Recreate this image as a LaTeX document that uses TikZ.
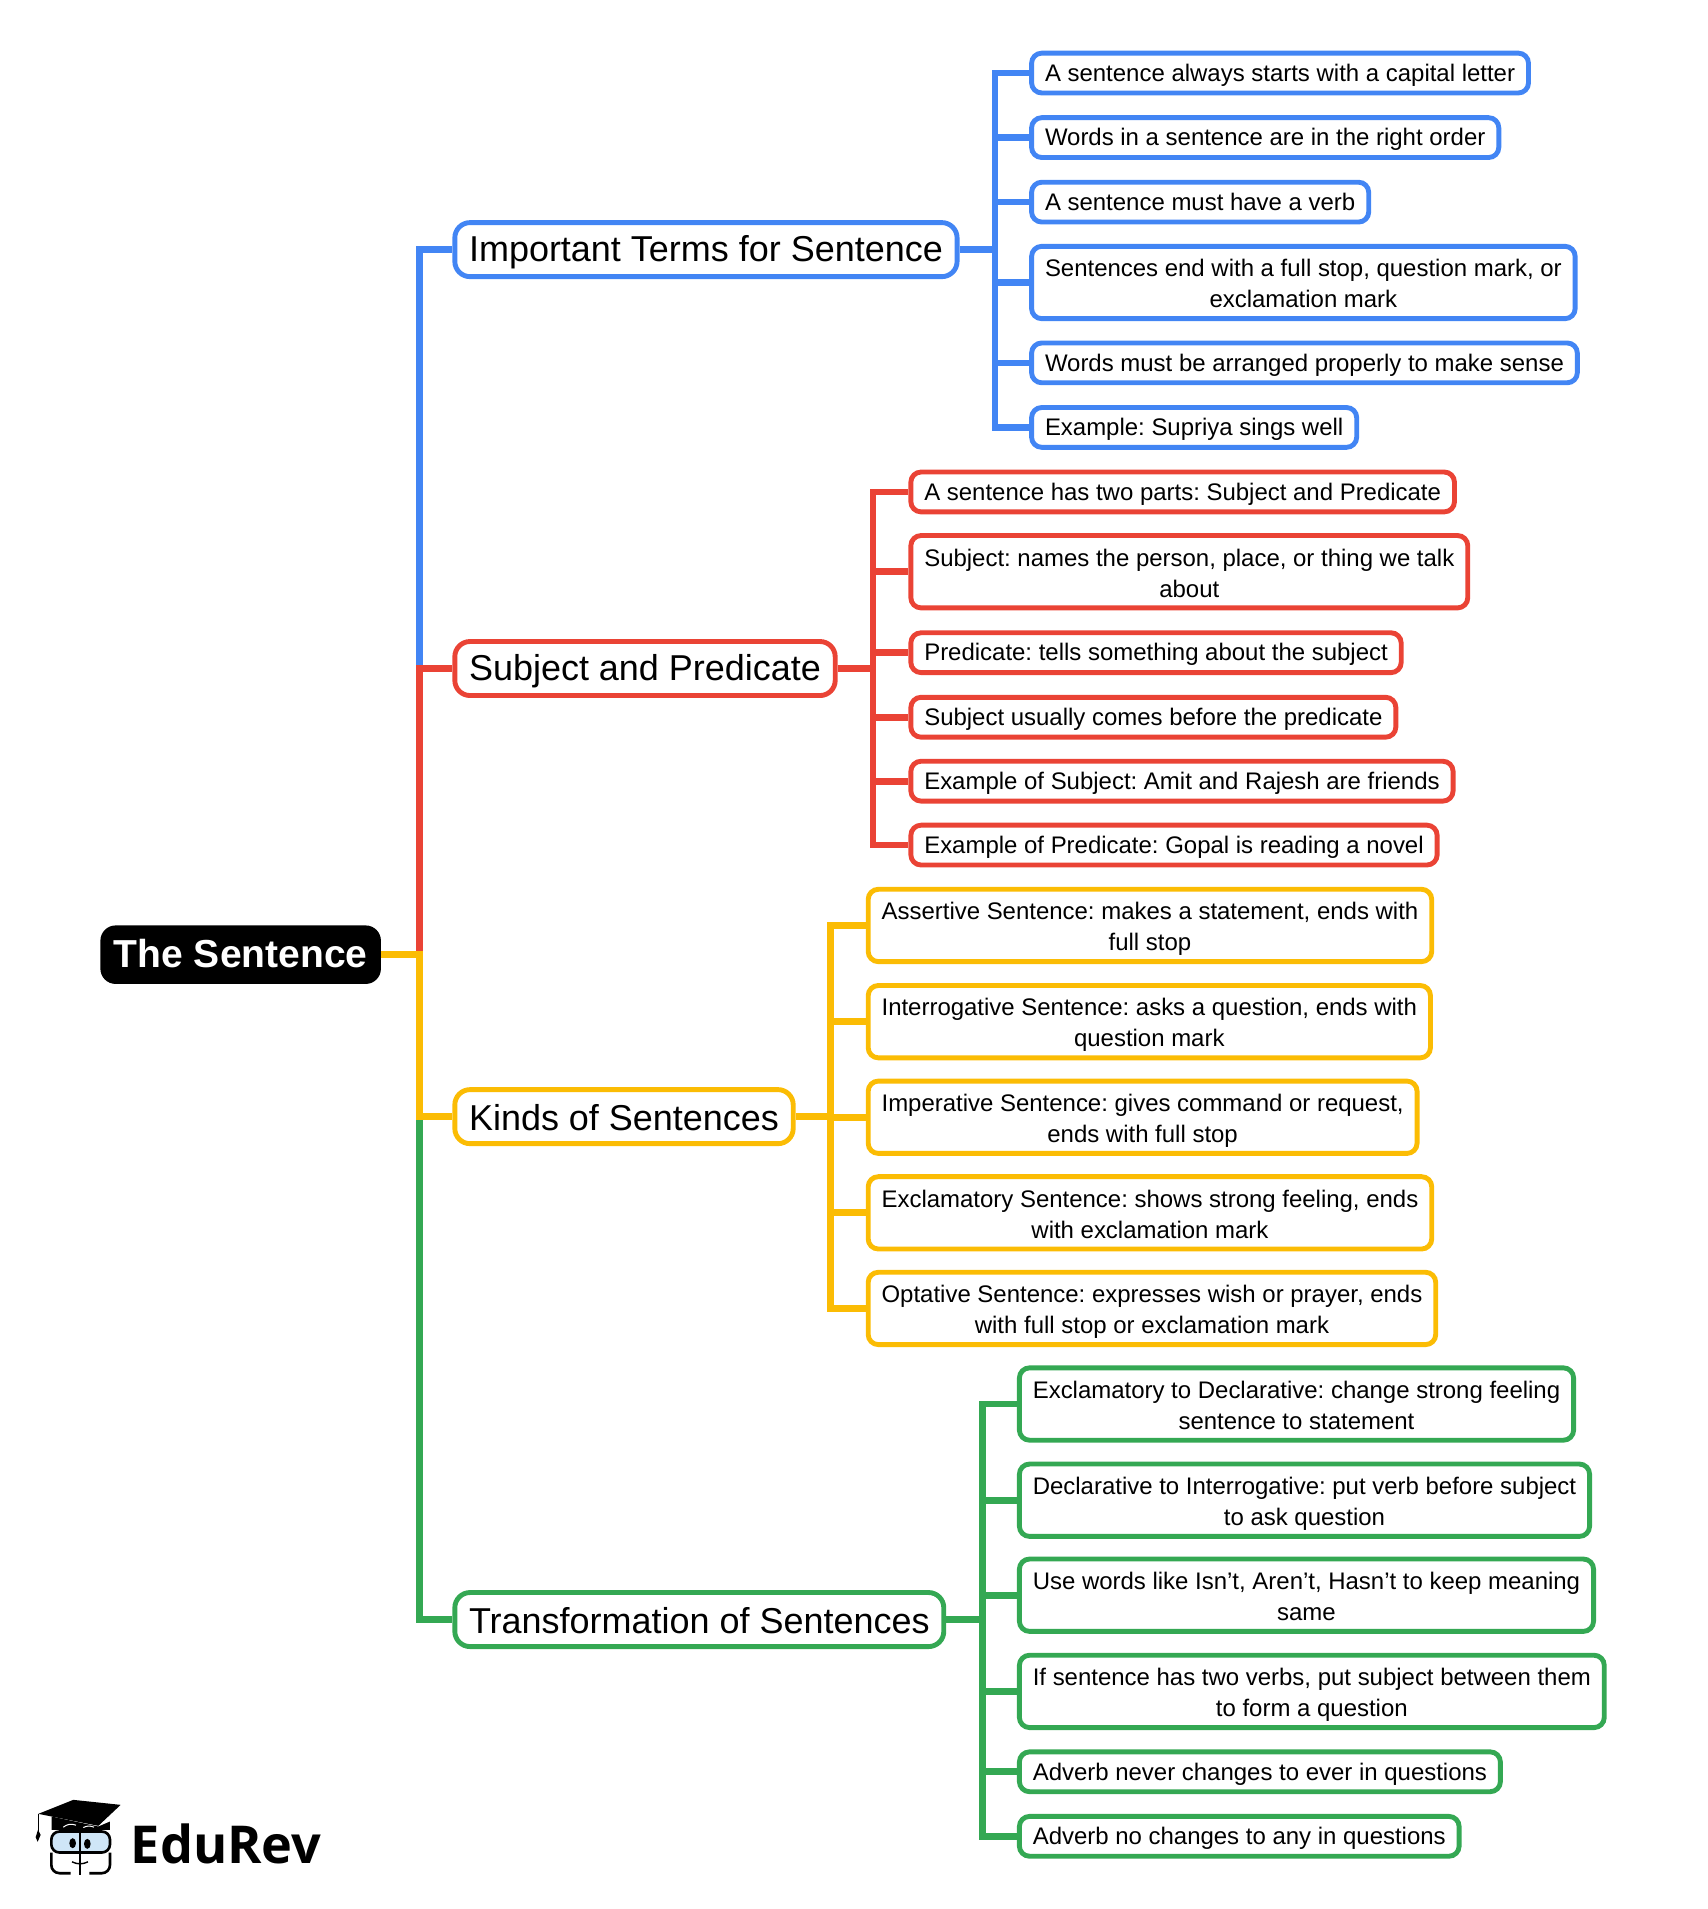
\documentclass[tikz,border=0pt]{standalone}
\usepackage{fontspec}
\setmainfont{Liberation Sans}
\newfontfamily\logofont{Open Sans}
\usetikzlibrary{calc,positioning}
\definecolor{mapblue}{HTML}{4285F4}
\definecolor{mapred}{HTML}{EA4335}
\definecolor{mapyellow}{HTML}{FBBC04}
\definecolor{mapgreen}{HTML}{34A853}
\definecolor{lensblue}{HTML}{CFE6F7}
\newcommand{\leafstrut}{\vrule width 0pt height 10.6pt depth 2pt}
\newcommand{\tallstrut}{\vrule width 0pt height 27pt depth 2pt}
\newcommand{\branchstrut}{\vrule width 0pt height 15.6pt depth 2pt}
\newcommand{\rootstrut}{\vrule width 0pt height 15pt depth 2.2pt}

\begin{document}
\frenchspacing
\begin{tikzpicture}[
		x=0.6pt, y=-0.5992pt,
		every node/.style={font=\fontsize{11.79}{15.3}\selectfont, inner sep=0pt},
		leaf/.style={draw=#1, fill=white, line width=2.4pt, rounded corners=5pt, anchor=west, align=center,
			inner xsep=6.6pt, minimum height=19.6pt, execute at begin node=\leafstrut, execute at end node=\leafstrut},
		tall/.style={minimum height=35.6pt, execute at begin node=\tallstrut},
		branch/.style={draw=#1, fill=white, line width=2.4pt, rounded corners=7.5pt, anchor=west,
			font=\fontsize{17.7}{21}\selectfont, inner xsep=7pt, minimum height=26.6pt,
			execute at begin node=\branchstrut},
		link/.style={draw=#1, line width=3.3pt}
		]
		\useasboundingbox (0,0) rectangle (1400,1567.7);

		% --- racine et branches ---
		\node[anchor=west, fill=black, text=white, rounded corners=7.5pt, minimum height=28.8pt, inner xsep=6.6pt,
			font=\fontsize{19.2}{21}\selectfont\bfseries, execute at begin node=\rootstrut] (root) at (82,784) {The Sentence};
		\node[branch=mapblue] (terms) at (371,205) {Important Terms for Sentence};
		\node[branch=mapred] (parts) at (371,549) {Subject and Predicate};
		\node[branch=mapyellow] (kinds) at (371,917) {Kinds of Sentences};
		\node[branch=mapgreen] (trans) at (371,1330) {Transformation of Sentences};

		% --- feuilles bleues ---
		\node[leaf=mapblue] (b1) at (844,60) {A sentence always starts with a capital letter};
		\node[leaf=mapblue] (b2) at (844,113) {Words in a sentence are in the right order};
		\node[leaf=mapblue] (b3) at (844,166) {A sentence must have a verb};
		\node[leaf=mapblue, tall] (b4) at (844,232) {Sentences end with a full stop, question mark, or\\exclamation mark};
		\node[leaf=mapblue] (b5) at (844,298) {Words must be arranged properly to make sense};
		\node[leaf=mapblue] (b6) at (844,351) {Example: Supriya sings well};

		% --- feuilles rouges ---
		\node[leaf=mapred] (r1) at (745,404) {A sentence has two parts: Subject and Predicate};
		\node[leaf=mapred, tall] (r2) at (745,469.5) {Subject: names the person, place, or thing we talk\\about};
		\node[leaf=mapred] (r3) at (745,536) {Predicate: tells something about the subject};
		\node[leaf=mapred] (r4) at (745,589) {Subject usually comes before the predicate};
		\node[leaf=mapred] (r5) at (745,641.5) {Example of Subject: Amit and Rajesh are friends};
		\node[leaf=mapred] (r6) at (745,694) {Example of Predicate: Gopal is reading a novel};

		% --- feuilles jaunes ---
		\node[leaf=mapyellow, tall] (y1) at (710,760) {Assertive Sentence: makes a statement, ends with\\full stop};
		\node[leaf=mapyellow, tall] (y2) at (710,839) {Interrogative Sentence: asks a question, ends with\\question mark};
		\node[leaf=mapyellow, tall] (y3) at (710,917.5) {Imperative Sentence: gives command or request,\\ends with full stop};
		\node[leaf=mapyellow, tall] (y4) at (710,996) {Exclamatory Sentence: shows strong feeling, ends\\with exclamation mark};
		\node[leaf=mapyellow, tall] (y5) at (710,1074.5) {Optative Sentence: expresses wish or prayer, ends\\with full stop or exclamation mark};

		% --- feuilles vertes ---
		\node[leaf=mapgreen, tall] (g1) at (834,1153) {Exclamatory to Declarative: change strong feeling\\sentence to statement};
		\node[leaf=mapgreen, tall] (g2) at (834,1232) {Declarative to Interrogative: put verb before subject\\to ask question};
		\node[leaf=mapgreen, tall] (g3) at (834,1310) {Use words like Isn’t, Aren’t, Hasn’t to keep meaning\\same};
		\node[leaf=mapgreen, tall] (g4) at (834,1389) {If sentence has two verbs, put subject between them\\to form a question};
		\node[leaf=mapgreen] (g5) at (834,1455) {Adverb never changes to ever in questions};
		\node[leaf=mapgreen] (g6) at (834,1508) {Adverb no changes to any in questions};

		% --- tronc ---
		\coordinate (trunk) at (344,784);
		\draw[link=mapblue] (trunk |- parts.west) -- (trunk |- terms.west) -- (terms.west);
		\draw[link=mapred] (trunk) -- (trunk |- parts.west) -- (parts.west);
		\draw[link=mapgreen] (trunk |- kinds.west) -- (trunk |- trans.west) -- (trans.west);
		\draw[link=mapyellow] (root.east) -- (trunk) -- (trunk |- kinds.west) -- (kinds.west);

		% --- peignes ---
		\coordinate (busb) at (816,205);
		\coordinate (busr) at (716,549);
		\coordinate (busy) at (681,917);
		\coordinate (busg) at (806,1330);

		\draw[link=mapblue] (terms.east) -- (busb);
		\draw[link=mapblue] (b1.west) -- (busb |- b1.west) -- (busb |- b6.west) -- (b6.west);
		\foreach \n in {b2,b3,b4,b5}
			\draw[link=mapblue] (busb |- \n.west) -- (\n.west);

		\draw[link=mapred] (parts.east) -- (busr);
		\draw[link=mapred] (r1.west) -- (busr |- r1.west) -- (busr |- r6.west) -- (r6.west);
		\foreach \n in {r2,r3,r4,r5}
			\draw[link=mapred] (busr |- \n.west) -- (\n.west);

		\draw[link=mapyellow] (kinds.east) -- (busy);
		\draw[link=mapyellow] (y1.west) -- (busy |- y1.west) -- (busy |- y5.west) -- (y5.west);
		\foreach \n in {y2,y3,y4}
			\draw[link=mapyellow] (busy |- \n.west) -- (\n.west);

		\draw[link=mapgreen] (trans.east) -- (busg);
		\draw[link=mapgreen] (g1.west) -- (busg |- g1.west) -- (busg |- g6.west) -- (g6.west);
		\foreach \n in {g2,g3,g4,g5}
			\draw[link=mapgreen] (busg |- \n.west) -- (\n.west);

		% --- logo ---
		\node[anchor=base west, font=\fontsize{25.7}{30}\logofont\bfseries] (brand) at (107,1530) {EduRev};
		\begin{scope}[shift={(0,1437)}, x=0.164pt, y=-0.164pt]
			\draw[fill=lensblue, line width=1.3pt, rounded corners=4pt] (154,245) rectangle (330,308);
			\draw[fill=white, line width=1.3pt, rounded corners=4pt] (154,308) -- (154,370) -- (212,370) (268,370) -- (330,370) -- (330,308);
			\fill (155,200) -- (155,240) -- (330,240) -- (330,215) -- (295,230) -- cycle;
			\fill (115,192) -- (220,150) -- (362,165) -- (295,228) -- cycle;
			\draw[white, line width=0.5pt] (190,232) to[bend left=30] (228,226);
			\draw[white, line width=0.5pt] (250,233) to[bend left=25] (282,232);
			\draw[line width=0.6pt] (115,192) -- (115,250);
			\fill (107,262) -- (114,240) -- (122,255) -- (113,276) -- cycle;
			\draw[line width=1.3pt] (240,240) -- (240,374);
			\fill (218,280) ellipse [x radius=10, y radius=15];
			\fill (262,282) ellipse [x radius=10, y radius=15];
			\draw[line width=0.7pt] (216,336) to[bend right=25] (264,336);
		\end{scope}

	\end{tikzpicture}
\end{document}
